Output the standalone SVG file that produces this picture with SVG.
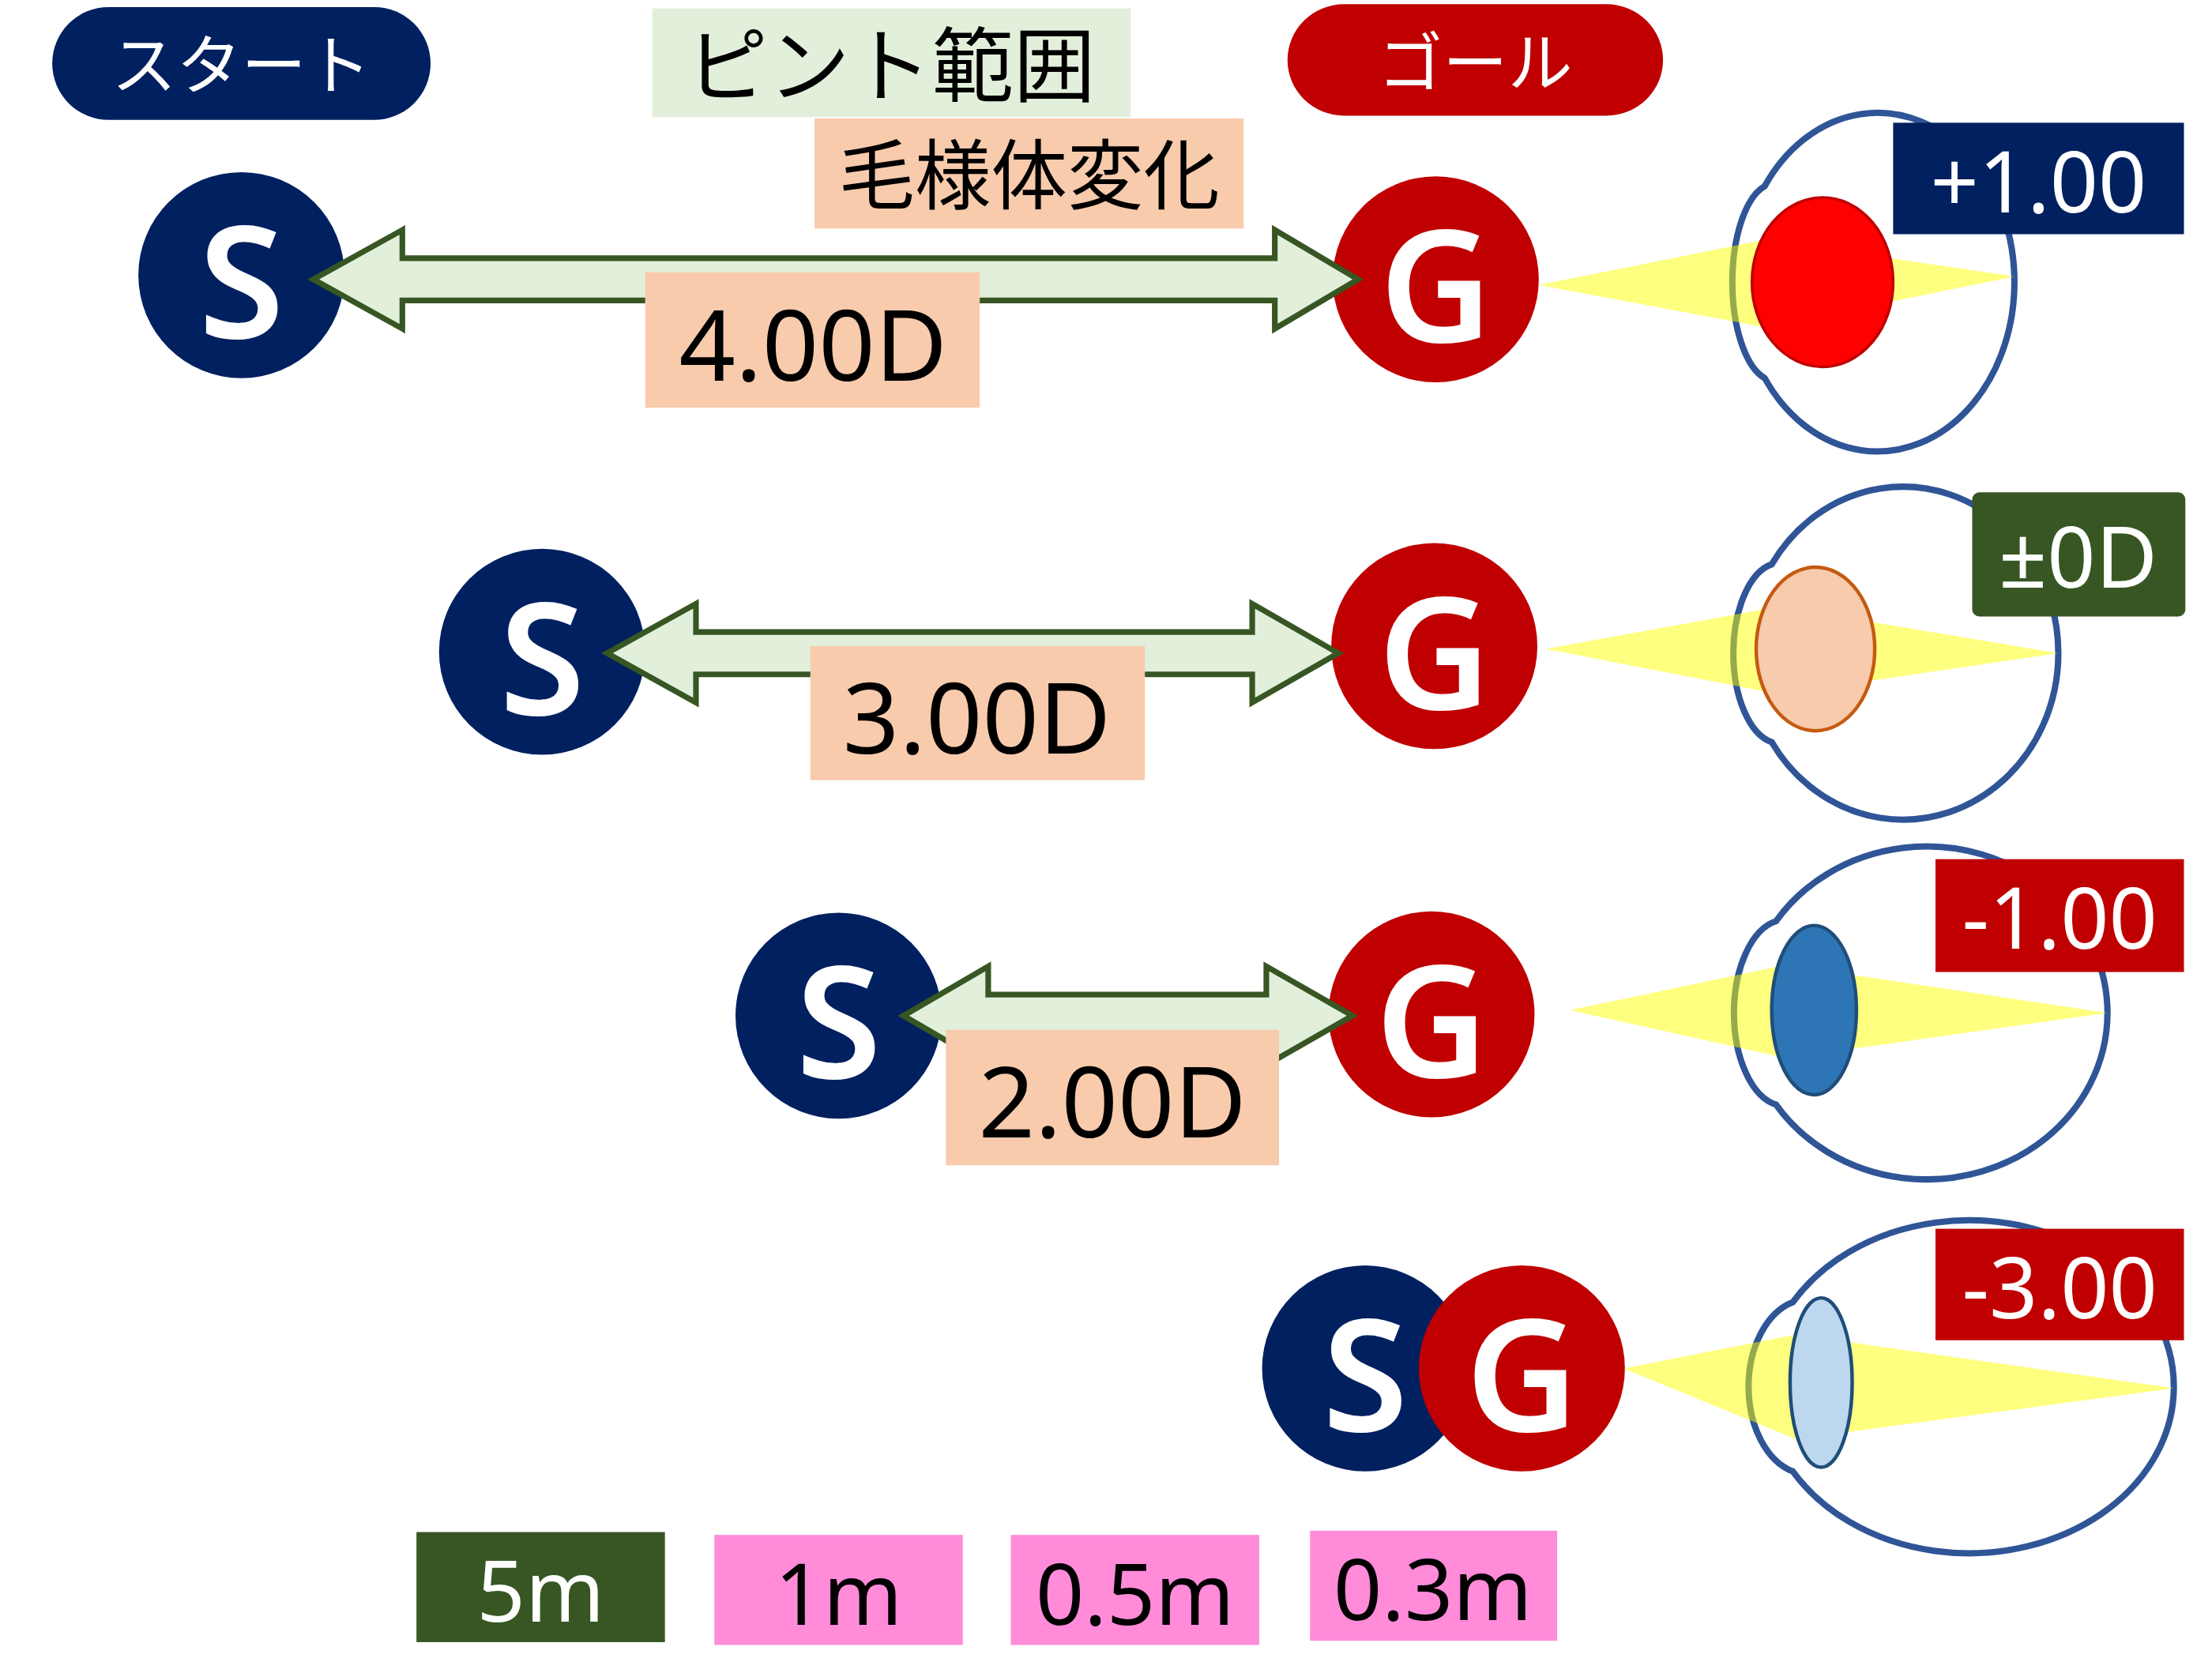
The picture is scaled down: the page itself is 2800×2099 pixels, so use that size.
<svg xmlns="http://www.w3.org/2000/svg" width="2800" height="2099" viewBox="0 0 2800 2099">
<style>
text{font-family:"Noto Sans","Liberation Sans","Noto Sans CJK JP",sans-serif;text-anchor:middle;dominant-baseline:central}
.s{fill:#002060}.g{fill:#C00000}
.sg{fill:#fff;font-size:110px;font-weight:600}
.arr{fill:#E2EFDA;stroke:#375623;stroke-width:4}
.lab{fill:#F8CBAD}
.dt{font-size:70px;fill:#000}
.globe{fill:#fff;stroke:#2F5597;stroke-width:4.5}
.beam{fill:#FFFF00;opacity:0.5}
.wt{fill:#fff;font-size:60px}
.pk{fill:#FF8BD9}
.bt{font-size:60px;fill:#000}
</style>
<rect width="2800" height="2099" fill="#fff"/>
<g transform="scale(1.787,1.786)">
<g id="start-label"><rect x="37" y="5" width="268" height="80" rx="40" class="s"/><text x="171" y="45" fill="#fff" font-size="46">スタート</text></g>
<g id="goal-label"><rect x="912" y="3" width="266" height="79" rx="40" class="g"/><text x="1045" y="43" fill="#fff" font-size="46">ゴール</text></g>
<g id="pinto"><rect x="462" y="6" width="339" height="77" fill="#E2EFDA"/><text x="631" y="45" font-size="58">ピント範囲</text></g>
<g id="mouyou"><rect x="577" y="84" width="304" height="78" class="lab"/><text x="729" y="123" font-size="54">毛様体変化</text></g>

<g id="s1"><circle cx="171" cy="195" r="73" class="s"/><text x="171" y="197" class="sg">S</text></g>
<g id="g1"><circle cx="1017" cy="198" r="73" class="g"/><text x="1017" y="200" class="sg">G</text></g>
<g id="s2"><circle cx="384" cy="462" r="73" class="s"/><text x="384" y="464" class="sg">S</text></g>
<g id="g2"><circle cx="1016" cy="458" r="73" class="g"/><text x="1016" y="460" class="sg">G</text></g>
<g id="s3"><circle cx="594" cy="720" r="73" class="s"/><text x="594" y="722" class="sg">S</text></g>
<g id="g3"><circle cx="1014" cy="719" r="73" class="g"/><text x="1014" y="721" class="sg">G</text></g>
<g id="s4"><circle cx="967" cy="970" r="73" class="s"/><text x="967" y="972" class="sg">S</text></g>
<g id="g4"><circle cx="1078" cy="970" r="73" class="g"/><text x="1078" y="972" class="sg">G</text></g>

<g id="connectors">
<path class="arr" d="M222,198 L285,163 L285,183 L903,183 L903,163 L962,198 L903,233 L903,213 L285,213 L285,233 Z"/>
<path class="arr" d="M430,463 L493,428 L493,448 L887,448 L887,428 L948,463 L887,498 L887,478 L493,478 L493,498 Z"/>
<path class="arr" d="M640,720 L700,685 L700,705 L897,705 L897,685 L958,720 L897,755 L897,735 L700,735 L700,755 Z"/>
</g>

<g id="l1"><rect x="457" y="193" width="237" height="96" class="lab"/><text x="576" y="243" class="dt">4.00D</text></g>
<g id="l2"><rect x="574" y="458" width="237" height="95" class="lab"/><text x="692" y="507" class="dt">3.00D</text></g>
<g id="l3"><rect x="670" y="730" width="236" height="96" class="lab"/><text x="788" y="779" class="dt">2.00D</text></g>

<g id="eye1">
<path class="globe" d="M1250,132 A97,120 0 1 1 1250,268 A30,70 0 0 1 1250,132 Z"/>
<polygon class="beam" points="1090,202 1250,170 1427,196 1250,232"/>
<ellipse cx="1291" cy="200" rx="50" ry="60" fill="#FF0000" stroke="#C00000" stroke-width="2"/>
<rect x="1341" y="87" width="206" height="79" fill="#002060"/><text x="1444" y="127" class="wt">+1.00</text>
</g>
<g id="eye2">
<path class="globe" d="M1255,400 A110,118 0 1 1 1255,526 A33,64 0 0 1 1255,400 Z"/>
<polygon class="beam" points="1095,460 1260,430 1458,463 1260,492"/>
<ellipse cx="1286" cy="460" rx="42" ry="58" fill="#F8CBAD" stroke="#C55A11" stroke-width="2.5"/>
<rect x="1397" y="349" width="151" height="88" rx="5" fill="#375623"/><text x="1472" y="393" class="wt">±0D</text>
</g>
<g id="eye3">
<path class="globe" d="M1258,653 A128,118 0 1 1 1258,783 A36,66 0 0 1 1258,653 Z"/>
<polygon class="beam" points="1112,716 1265,684 1493,718 1265,750"/>
<ellipse cx="1285" cy="716" rx="30" ry="60" fill="#2E75B6" stroke="#1F4E79" stroke-width="2.5"/>
<rect x="1371" y="609" width="176" height="80" fill="#C00000"/><text x="1459" y="649" class="wt">-1.00</text>
</g>
<g id="eye4">
<path class="globe" d="M1270,923 A145,118 0 1 1 1270,1043 A42,62 0 0 1 1270,923 Z"/>
<polygon class="beam" points="1150,970 1272,946 1540,984 1272,1020"/>
<ellipse cx="1290" cy="980" rx="22" ry="60" fill="#BDD7EE" stroke="#1F4E79" stroke-width="2.5"/>
<rect x="1371" y="871" width="176" height="79" fill="#C00000"/><text x="1459" y="911" class="wt">-3.00</text>
</g>

<g id="d5"><rect x="295" y="1086" width="176" height="78" fill="#375623"/><text x="383" y="1126" class="bt" style="fill:#fff">5m</text></g>
<g id="d1"><rect x="506" y="1088" width="176" height="78" class="pk"/><text x="594" y="1128" class="bt">1m</text></g>
<g id="d05"><rect x="716" y="1088" width="176" height="78" class="pk"/><text x="804" y="1128" class="bt">0.5m</text></g>
<g id="d03"><rect x="928" y="1085" width="175" height="78" class="pk"/><text x="1015" y="1125" class="bt">0.3m</text></g>
</g>
</svg>
